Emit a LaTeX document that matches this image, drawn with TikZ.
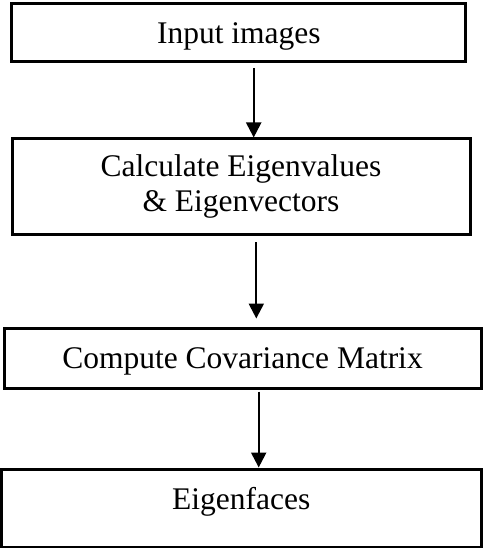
\documentclass[tikz,border=0pt]{standalone}
\usepackage{fontspec}
\setmainfont{Liberation Serif}
\usetikzlibrary{arrows.meta}
\tikzset{
  stage/.style={draw=black, line width=3pt, rectangle, inner sep=0pt,
    align=center, font=\fontsize{31.5}{35.5}\selectfont},
  flow/.style={draw=black, line width=2.2pt, -{Triangle[width=15pt,length=15pt]}}
}
\begin{document}
\begin{tikzpicture}[x=1pt,y=-1pt]
\useasboundingbox (0,0) rectangle (482,548);
% processing stages, top to bottom
\node[stage, minimum width=454pt, minimum height=58pt, text height=21pt, text depth=0pt]
  (input) at (238.9,33) {Input images};
\node[stage, minimum width=458pt, minimum height=95pt]
  (eigen) at (241,186.5) {Calculate Eigenvalues\\ \& Eigenvectors};
\node[stage, minimum width=477pt, minimum height=60pt, text height=21pt, text depth=0pt]
  (cov) at (242.5,358) {Compute Covariance Matrix};
\node[stage, minimum width=479.5pt, minimum height=78pt, text height=21pt, text depth=18pt]
  (faces) at (241.25,508) {Eigenfaces};
% connectors between the stages
\draw[flow] ([xshift=14.8pt,yshift=-4.5pt]input.south) -- ([xshift=12.7pt]eigen.north);
\draw[flow] ([xshift=15.3pt,yshift=-6.5pt]eigen.south) -- ([xshift=13.8pt,yshift=8pt]cov.north);
\draw[flow] ([xshift=16.2pt,yshift=-2pt]cov.south) -- ([xshift=17.45pt]faces.north);
\end{tikzpicture}
\end{document}
